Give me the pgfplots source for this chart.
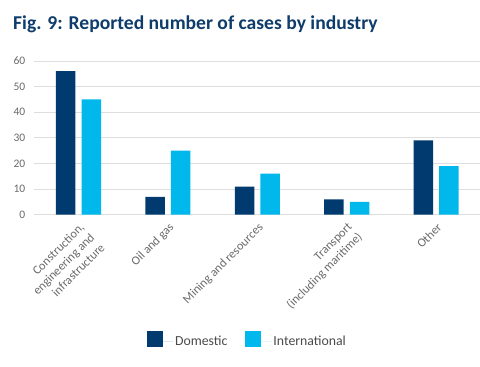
\documentclass[border=0pt]{standalone}
\usepackage{pgfplots}
\pgfplotsset{compat=1.18}
\usepackage{fontspec}
\setmainfont{Carlito}
\definecolor{dom}{HTML}{003A6E}
\definecolor{intl}{HTML}{00B8EC}
\definecolor{ttl}{HTML}{0E3C6B}
\definecolor{tickc}{HTML}{6A6A6A}
\definecolor{legc}{HTML}{4A4A4A}
\begin{document}
\begin{tikzpicture}[x=1pt,y=1pt]
\useasboundingbox (0,0) rectangle (480,367);
\node[anchor=base west, font=\fontsize{19.6}{22}\selectfont\bfseries, text=ttl, inner sep=0pt] at (13,337) {Fig. 9: Reported number of cases by industry};
\begin{axis}[at={(33.8pt,152.3pt)}, anchor=south west, scale only axis,
  width=447pt, height=153.7pt,
  xmin=-0.5, xmax=4.5, ymin=0, ymax=60,
  ytick={0,10,...,60}, xtick={0,...,4},
  xticklabels={{Construction,\\engineering and\\infrastructure}, Oil and gas, Mining and resources, {Transport\\(including maritime)}, Other},
  /pgf/number format/assume math mode=true,
  axis line style={draw=none}, major tick length=0pt,
  ymajorgrids, grid style={draw=black!13, line width=0.7pt},
  yticklabel style={font=\fontsize{11.5}{13}\selectfont, text=tickc, xshift=-5pt},
  xticklabel style={font=\fontsize{12.3}{14.5}\selectfont, text=tickc, rotate=45, anchor=north east, align=right, xshift=-1.5pt, yshift=-2pt},
  legend style={at={(0.478,-0.815)}, anchor=center, draw=none, fill=none,
    legend columns=2, font=\fontsize{13.8}{16}\selectfont, text=legc},
]
\addplot[ybar, bar width=19.5pt, bar shift=-12.8pt, fill=dom, draw=none,
  legend image code/.code={\fill[dom] (0pt,-5pt) rectangle (16pt,11pt); \path (16pt,0pt) -- (26pt,0pt);}]
  coordinates {(0,56) (1,7) (2,11) (3,6) (4,29)};
\addlegendentry{Domestic\rule{16pt}{0pt}}
\addplot[ybar, bar width=19.5pt, bar shift=12.8pt, fill=intl, draw=none,
  legend image code/.code={\fill[intl] (0pt,-5pt) rectangle (16pt,11pt); \path (16pt,0pt) -- (26pt,0pt);}]
  coordinates {(0,45) (1,25) (2,16) (3,5) (4,19)};
\addlegendentry{International}
\end{axis}
\end{tikzpicture}
\end{document}
